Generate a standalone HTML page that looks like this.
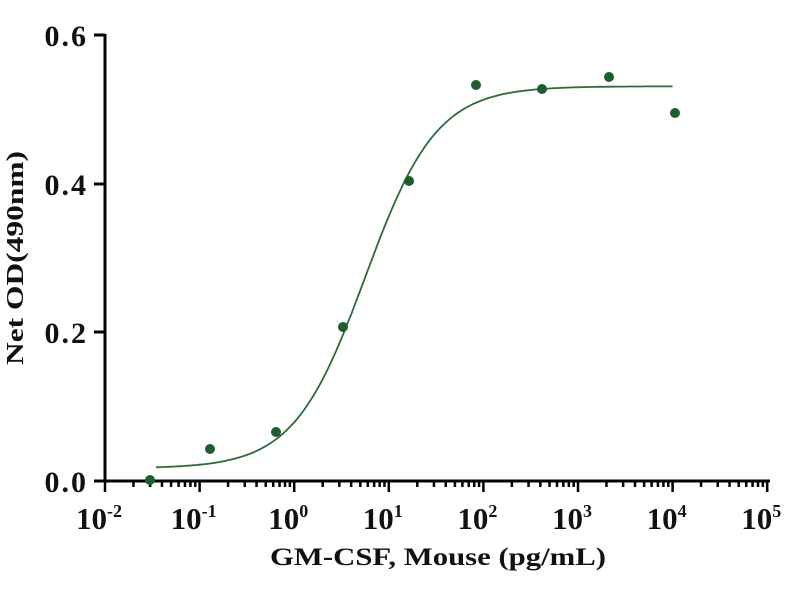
<!DOCTYPE html>
<html><head><meta charset="utf-8"><style>
html,body{margin:0;padding:0;background:#fff;}
svg{display:block;font-family:"Liberation Serif",serif;font-weight:bold;}
</style></head><body>
<svg id="s" width="800" height="600" xmlns="http://www.w3.org/2000/svg">
<g stroke="#000" stroke-width="3" fill="none">
<line x1="105" y1="34" x2="105" y2="482"/>
<line x1="104" y1="481" x2="770" y2="481"/>
<line x1="94" y1="35" x2="105" y2="35"/>
<line x1="94" y1="184" x2="105" y2="184"/>
<line x1="94" y1="332" x2="105" y2="332"/>
<line x1="94" y1="481" x2="105" y2="481"/>
</g>
<g id="ticks" stroke="#000" stroke-width="2.5"></g>
<g font-size="30" text-anchor="end" fill="#111" letter-spacing="2">
<text x="88" y="46">0.6</text>
<text x="88" y="195">0.4</text>
<text x="88" y="343">0.2</text>
<text x="88" y="492">0.0</text>
</g>
<g id="xl" font-size="31" fill="#111"></g>
<text x="438" y="565" font-size="25" text-anchor="middle" fill="#111" textLength="336" lengthAdjust="spacingAndGlyphs">GM-CSF, Mouse (pg/mL)</text>
<text transform="translate(23,258) rotate(-90)" font-size="24" text-anchor="middle" fill="#111" textLength="214" lengthAdjust="spacingAndGlyphs">Net OD(490nm)</text>
<path id="curve" fill="none" stroke="#2f6b3a" stroke-width="1.8"/>
<g id="pts" fill="#1e5e2e"></g>
</svg>
<script>
var X0=105,D=94.6,Y0=481,S=446/0.6;
function px(l){return X0+(l+2)*D;}
function py(v){return Y0-v*S;}
var t=document.getElementById('ticks'),h='';
for(var d=-2;d<=5;d++){var x=px(d);h+='<line x1="'+x+'" y1="481" x2="'+x+'" y2="492"/>';
 if(d<5)for(var k=2;k<10;k++){var xx=px(d+Math.log10(k));h+='<line x1="'+xx+'" y1="481" x2="'+xx+'" y2="487"/>';}}
t.innerHTML=h;
var xl=document.getElementById('xl'),g='';
for(var d=-2;d<=5;d++){var x=px(d);g+='<text x="'+(x-6)+'" y="529" text-anchor="middle">10<tspan font-size="18" dy="-12">'+d+'</tspan></text>';}
xl.innerHTML=g;
var b=0.017,tp=0.531,ec=0.75,hl=1.15,p='';
for(var l=-1.46;l<=4.02;l+=0.02){var v=b+(tp-b)/(1+Math.pow(10,(ec-l)*hl));p+=(p?'L':'M')+px(l).toFixed(1)+','+py(v).toFixed(1);}
document.getElementById('curve').setAttribute('d',p);
var P=[[150,480],[210,449],[276,432],[343,327],[409,181],[476,85],[542,89],[609,77],[675,113]],c='';
P.forEach(function(q){c+='<circle cx="'+q[0]+'" cy="'+q[1]+'" r="5"/>';});
document.getElementById('pts').innerHTML=c;
</script>
</body></html>
